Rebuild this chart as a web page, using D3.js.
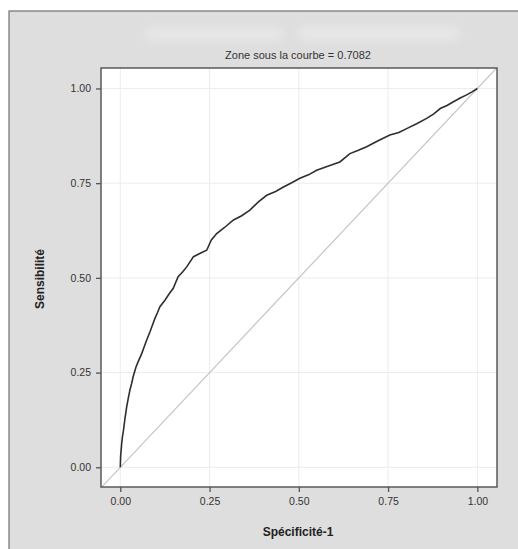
<!DOCTYPE html>
<html>
<head>
<meta charset="utf-8">
<script src="https://cdn.jsdelivr.net/npm/d3@7/dist/d3.min.js"></script>
<style>
  body { margin:0; background:#fff; }
  text { font-family: "Liberation Sans", Arial, sans-serif; }
</style>
</head>
<body>
<svg id="chart" width="518" height="549"></svg>
<script>
// ROC curve points (1-specificity, sensitivity)
var fpr  = [0, 0.001, 0.003, 0.004, 0.006, 0.009, 0.013, 0.018, 0.023, 0.027, 0.032, 0.036, 0.044,
            0.052, 0.060, 0.067, 0.074, 0.083, 0.092, 0.097, 0.104, 0.111, 0.125, 0.137, 0.148,
            0.162, 0.175, 0.186, 0.205, 0.224, 0.242, 0.255, 0.270, 0.292, 0.317, 0.340, 0.363,
            0.386, 0.410, 0.435, 0.457, 0.480, 0.503, 0.527, 0.550, 0.583, 0.615, 0.643, 0.665,
            0.690, 0.722, 0.755, 0.780, 0.802, 0.830, 0.858, 0.878, 0.896, 0.915, 0.933, 0.952,
            0.970, 0.985, 1.0];
var tpr  = [0, 0.030, 0.052, 0.064, 0.080, 0.098, 0.128, 0.160, 0.185, 0.204, 0.222, 0.239, 0.265,
            0.283, 0.300, 0.318, 0.336, 0.357, 0.380, 0.393, 0.408, 0.424, 0.441, 0.458, 0.472,
            0.503, 0.516, 0.529, 0.556, 0.565, 0.573, 0.600, 0.617, 0.633, 0.653, 0.664, 0.679,
            0.700, 0.718, 0.728, 0.740, 0.751, 0.763, 0.772, 0.784, 0.795, 0.806, 0.828, 0.836,
            0.846, 0.862, 0.877, 0.884, 0.894, 0.907, 0.921, 0.933, 0.947, 0.955, 0.965, 0.975,
            0.983, 0.991, 1.0];
var ticks = [0, 0.25, 0.5, 0.75, 1];
var titleText = "Zone sous la courbe = 0.7082";
var xLabel = "Spécificité-1";
var yLabel = "Sensibilité";

var svg = d3.select("#chart");

// outer gray panel
svg.append("rect").attr("x",9).attr("y",11).attr("width",520).attr("height",550)
  .attr("fill","#dedede").attr("stroke","#6f6f6f").attr("stroke-width",1.2);

// blurred (masked) heading
var defs = svg.append("defs");
defs.append("filter").attr("id","blur").attr("x","-20%").attr("y","-100%").attr("width","140%").attr("height","300%")
  .append("feGaussianBlur").attr("stdDeviation",3.5);
svg.append("rect").attr("x",144).attr("y",27).attr("width",140).attr("height",14).attr("rx",6)
  .attr("fill","#e6e6e6").attr("filter","url(#blur)");
svg.append("rect").attr("x",298).attr("y",26).attr("width",162).attr("height",15).attr("rx",6)
  .attr("fill","#e6e6e6").attr("filter","url(#blur)");

var pLeft = 101, pRight = 497, pTop = 68, pBottom = 487;
var x = d3.scaleLinear().domain([-0.054, 1.055]).range([pLeft, pRight]);
var y = d3.scaleLinear().domain([-0.052, 1.054]).range([pBottom, pTop]);

svg.append("rect").attr("x",pLeft).attr("y",pTop).attr("width",pRight-pLeft).attr("height",pBottom-pTop)
  .attr("fill","#fff");

// grid
var g = svg.append("g");
g.selectAll(".vx").data(ticks).enter().append("line")
  .attr("x1",function(d){return x(d);}).attr("x2",function(d){return x(d);})
  .attr("y1",pTop).attr("y2",pBottom).attr("stroke","#ececec").attr("stroke-width",1);
g.selectAll(".hy").data(ticks).enter().append("line")
  .attr("y1",function(d){return y(d);}).attr("y2",function(d){return y(d);})
  .attr("x1",pLeft).attr("x2",pRight).attr("stroke","#ececec").attr("stroke-width",1);

// clip for plot area
defs.append("clipPath").attr("id","plot").append("rect")
  .attr("x",pLeft).attr("y",pTop).attr("width",pRight-pLeft).attr("height",pBottom-pTop);

// reference diagonal
svg.append("line").attr("clip-path","url(#plot)")
  .attr("x1",x(-0.06)).attr("y1",y(-0.06)).attr("x2",x(1.06)).attr("y2",y(1.06))
  .attr("stroke","#c4c4c4").attr("stroke-width",1.2);

// ROC curve
var pts = fpr.map(function(d,i){ return [d, tpr[i]]; });
svg.append("path").datum(pts)
  .attr("fill","none").attr("stroke","#2e2e2e").attr("stroke-width",1.6)
  .attr("d", d3.line().x(function(d){return x(d[0]);}).y(function(d){return y(d[1]);}));

// frame
svg.append("rect").attr("x",pLeft).attr("y",pTop).attr("width",pRight-pLeft).attr("height",pBottom-pTop)
  .attr("fill","none").attr("stroke","#5a5a5a").attr("stroke-width",1.5);

// axes
var fmt = d3.format(".2f");
var xa = svg.append("g").attr("transform","translate(0,"+pBottom+")")
  .call(d3.axisBottom(x).tickValues(ticks).tickFormat(fmt).tickSize(5).tickPadding(6));
var ya = svg.append("g").attr("transform","translate("+pLeft+",0)")
  .call(d3.axisLeft(y).tickValues(ticks).tickFormat(fmt).tickSize(5).tickPadding(5));
[xa, ya].forEach(function(a){
  a.select(".domain").remove();
  a.selectAll("line").attr("stroke","#555").attr("stroke-width",1.3);
  a.selectAll("text").attr("fill","#333").style("font-size","10.5px")
    .style("font-family","'Liberation Sans', Arial, sans-serif");
});

// title and labels
svg.append("text").attr("x",298).attr("y",59).attr("text-anchor","middle")
  .attr("fill","#333").style("font-size","11px").text(titleText);
svg.append("text").attr("x",298).attr("y",536).attr("text-anchor","middle")
  .attr("fill","#222").style("font-size","12px").style("font-weight","bold").text(xLabel);
svg.append("text").attr("transform","translate(44,279) rotate(-90)").attr("text-anchor","middle")
  .attr("fill","#222").style("font-size","12px").style("font-weight","bold").text(yLabel);
</script>
</body>
</html>
